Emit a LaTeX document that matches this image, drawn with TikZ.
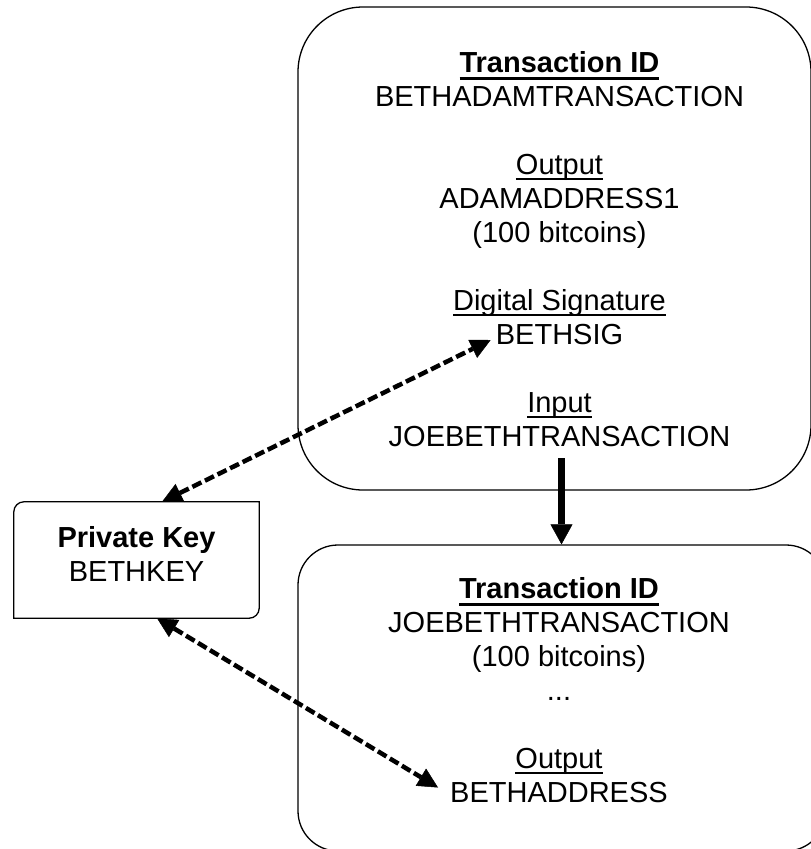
\documentclass[tikz,border=0pt]{standalone}
\usepackage{fontspec}
\setmainfont{Liberation Sans}
\usetikzlibrary{arrows.meta,calc}
\newcommand\ulreg[1]{\setbox0\hbox{#1}\rlap{\rule[-5.5pt]{\wd0}{1.5pt}}\box0}
\newcommand\ulbold[1]{\setbox0\hbox{#1}\rlap{\rule[-8pt]{\wd0}{3pt}}\box0}
\begin{document}
\begin{tikzpicture}[x=1pt,y=-1pt,
  txt/.style={inner sep=0pt, anchor=base, font=\fontsize{29pt}{34pt}\selectfont},
  frame/.style={draw, line width=1.3pt, rounded corners=#1, inner sep=0pt},
  boxline/.style={draw, line width=1.3pt},
  dasharrow/.style={line width=4.5pt, dash pattern=on 10pt off 4pt,
    {Triangle[length=20pt,width=20pt,line width=0.5pt]}-{Triangle[length=20pt,width=20pt,line width=0.5pt]}},
  bigarrow/.style={line width=6.5pt, -{Triangle[length=20pt,width=22pt,line width=0.5pt]}}]
\useasboundingbox (0,0) rectangle (811,849);
\clip (0,0) rectangle (811,849);

% boxes
\node[frame=65pt, minimum width=513pt, minimum height=483pt] (top) at (554.5,248.5) {};
\node[frame=40pt, minimum width=528pt, minimum height=306pt] (bot) at (562,698) {};
\node[minimum width=245pt, minimum height=116pt, inner sep=0pt] (pk) at (136.5,560) {};
\draw[boxline] (pk.south west) -- ($(pk.north west)+(0,10)$)
  .. controls ($(pk.north west)+(0,4.5)$) and ($(pk.north west)+(4.5,0)$) .. ($(pk.north west)+(10,0)$)
  -- (pk.north east) -- ($(pk.south east)+(0,-10)$)
  .. controls ($(pk.south east)+(0,-4.5)$) and ($(pk.south east)+(-4.5,0)$) .. ($(pk.south east)+(-10,0)$)
  -- cycle;

% top box text
\node[txt] (t1) at (559.5,72) {\ulbold{\bfseries Transaction ID}};
\node[txt] (t2) at (559.5,106) {BETHADAMTRANSACTION};
\node[txt] (t3) at (559.5,174) {\ulreg{Output}};
\node[txt] (t4) at (559.5,208) {ADAMADDRESS1};
\node[txt] (t5) at (559.5,242) {(100 bitcoins)};
\node[txt] (t6) at (559.5,310) {\ulreg{Digital Signature}};
\node[txt] (sig) at (559.5,344) {BETHSIG};
\node[txt] (t8) at (559.5,412) {\ulreg{Input}};
\node[txt] (t9) at (559.5,446) {JOEBETHTRANSACTION};

% bottom box text
\node[txt] (b1) at (559,598) {\ulbold{\bfseries Transaction ID}};
\node[txt] (b2) at (559,632) {JOEBETHTRANSACTION};
\node[txt] (b3) at (559,666) {(100 bitcoins)};
\node[txt] (b4) at (559,700) {...};
\node[txt] (b5) at (559,768) {\ulreg{Output}};
\node[txt] (baddr) at (559,802) {BETHADDRESS};

% private key text
\node[txt] (pk1) at (136.5,547) {\bfseries Private Key};
\node[txt] (pk2) at (136.5,581) {BETHKEY};

% connectors
\coordinate (pkTop) at ($(pk.north)+(25.5,0)$);
\coordinate (sigTip) at ($(sig.west)+(-5,6)$);
\coordinate (pkBot) at ($(pk.south)+(20.5,0)$);
\coordinate (addrTip) at ($(baddr.west)+(-12,-4.5)$);
\coordinate (inTail) at ($(t9.south)+(2,12)$);

\draw[dasharrow] (pkTop) -- (sigTip);
\draw[dasharrow] (pkBot) -- (addrTip);
\draw[bigarrow] (inTail) -- (inTail |- bot.north);
\end{tikzpicture}
\end{document}
